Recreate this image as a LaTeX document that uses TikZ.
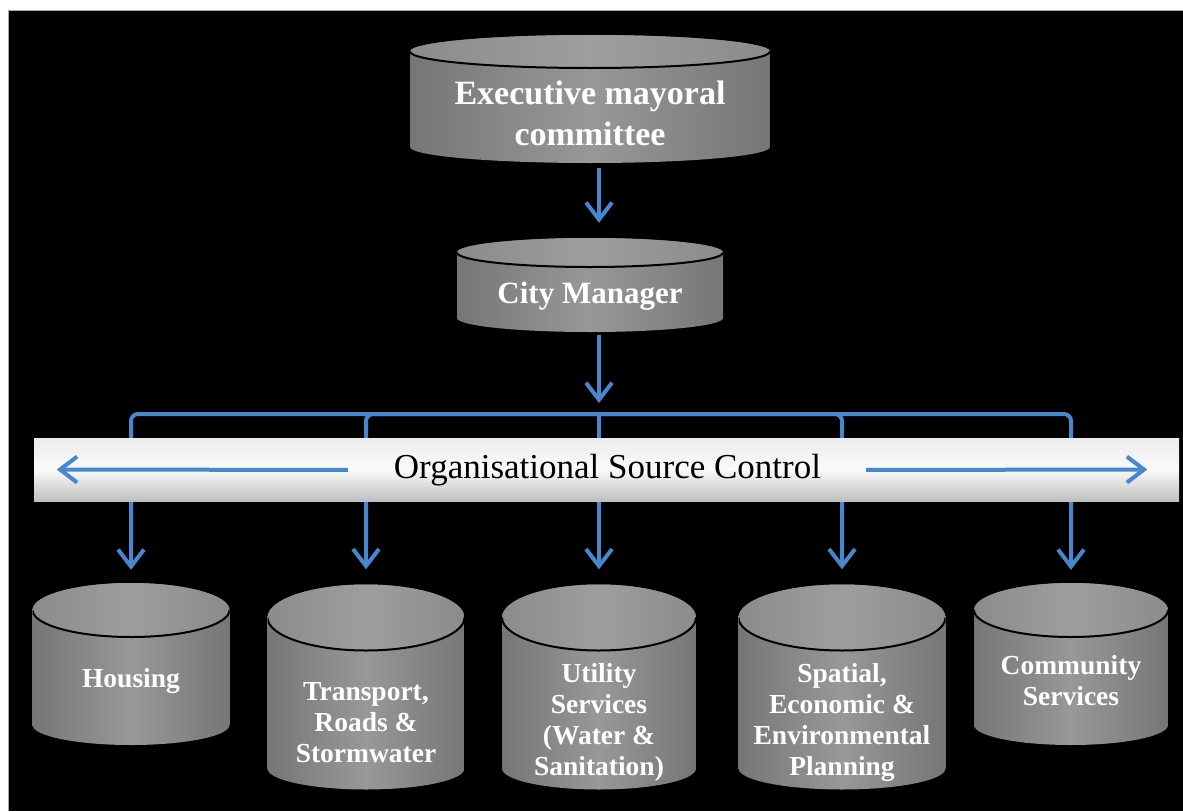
\documentclass[tikz,border=0pt]{standalone}
\usepackage{fontspec}
\setmainfont{Liberation Serif}
\usetikzlibrary{arrows.meta,calc}
\definecolor{linkblue}{RGB}{70,135,205}
\definecolor{drumedge}{RGB}{118,118,118}
\definecolor{drummid}{RGB}{152,152,152}
\definecolor{drumtop}{RGB}{158,158,158}
\tikzset{
  drum/.style 2 args={rectangle, fill=black, inner sep=0pt,
    path picture={
      \path[shading=axis, left color=drumedge, right color=drumedge, middle color=drummid]
        let \p1=(path picture bounding box.north west),
        \p2=(path picture bounding box.south east), \n1={(\x2-\x1)/2},
        \n2={#1}, \n3={#2} in
        (\x1,\y1-\n2) -- (\x1,\y2+\n3)
        arc [start angle=180, end angle=360, x radius=\n1, y radius=\n3]
        -- (\x2,\y1-\n2)
        arc [start angle=0, end angle=180, x radius=\n1, y radius=\n2] -- cycle;
      \path[shading=axis, left color=drumtop!88!black, right color=drumtop!88!black, middle color=drumtop]
        let \p1=(path picture bounding box.north west),
        \p2=(path picture bounding box.south east), \n1={(\x2-\x1)/2},
        \n2={#1} in (\x1+\n1,\y1-\n2) ellipse [x radius=\n1, y radius=\n2];
      \draw[black, line width=2pt] let \p1=(path picture bounding box.north west),
        \p2=(path picture bounding box.south east), \n1={(\x2-\x1)/2},
        \n2={#1} in (\x1,\y1-\n2)
        arc [start angle=180, end angle=360, x radius=\n1, y radius=\n2];
    }},
  drumtext/.style={text=white, align=center, inner sep=0pt},
  bar/.style={shading=axis, top color=gray!15, bottom color=gray!50, middle color=white!96!gray,
    inner sep=0pt},
  arr/.style={draw=linkblue, line width=4pt, -{Straight Barb[length=17pt,width=26pt]}},
}
\begin{document}
\begin{tikzpicture}[x=1pt,y=-1pt]
\useasboundingbox (0,0) rectangle (1183,811);
\fill[white] (0,0) rectangle (1183,811);
\fill[black] (8,10) rectangle (1183,811);
\draw[gray!70, line width=1pt] (8,811) -- (8,10) -- (1183,10);

% top of the hierarchy
\node[drum={16.5pt}{16pt}, minimum width=360pt, minimum height=128pt] (exec) at (590,99) {};
\node[drumtext, font=\fontsize{34}{41}\selectfont\bfseries] (exec-txt) at (590,113)
  {Executive mayoral\\committee};
\node[drum={14.5pt}{14pt}, minimum width=266pt, minimum height=94pt] (city) at (590,285) {};
\node[drumtext, font=\fontsize{31}{37}\selectfont\bfseries] (city-txt) at (590,296) {City Manager};

% departments
\node[drum={27pt}{20pt}, minimum width=197pt, minimum height=162pt] (housing) at (131,664) {};
\node[drum={33pt}{21pt}, minimum width=197pt, minimum height=205pt] (transport) at (366,687) {};
\node[drum={33pt}{21pt}, minimum width=194pt, minimum height=205pt] (utility) at (599,687) {};
\node[drum={33pt}{21pt}, minimum width=207pt, minimum height=205pt] (spatial) at (842,687) {};
\node[drum={27pt}{20pt}, minimum width=194pt, minimum height=162pt] (community) at (1071,664) {};
\begin{scope}[every node/.style={drumtext, font=\fontsize{27.5}{31}\selectfont\bfseries}]
  \node (housing-txt) at (131,681) {Housing};
  \node (transport-txt) at (366,723) {Transport,\\Roads \&\\Stormwater};
  \node (utility-txt) at (599,722) {Utility\\Services\\(Water \&\\Sanitation)};
  \node (spatial-txt) at (842,722) {Spatial,\\Economic \&\\Environmental\\Planning};
  \node (community-txt) at (1071,681) {Community\\Services};
\end{scope}

% connectors
\coordinate (bus) at (599,414);
\draw [arr, shorten <=5pt, shorten >=15pt] (exec.south -| bus) -- (city.north -| bus);
\draw [arr, shorten <=3pt, shorten >=11pt] (city.south -| bus) -- (bus);
\draw [arr, rounded corners=7pt, shorten >=13pt] (bus) -| (housing.north);
\draw [arr, rounded corners=7pt, shorten >=15pt] (bus) -| (transport.north);
\draw [arr, shorten >=15pt] (bus) -- (utility.north);
\draw [arr, rounded corners=7pt, shorten >=15pt] (bus) -| (spatial.north);
\draw [arr, rounded corners=7pt, shorten >=13pt] (bus) -| (community.north);

% source control bar
\node[bar, minimum width=1145pt, minimum height=63pt] (osc) at (606.5,469.5) {};
\node[inner sep=0pt, font=\fontsize{35}{42}\selectfont] (osc-txt) at (607.5,470) {Organisational Source Control};
\draw [arr, shorten <=46pt, shorten >=23pt] (osc-txt.west) -- (osc.west);
\draw [arr, shorten <=45pt, shorten >=32pt] (osc-txt.east) -- (osc.east);
\end{tikzpicture}
\end{document}
